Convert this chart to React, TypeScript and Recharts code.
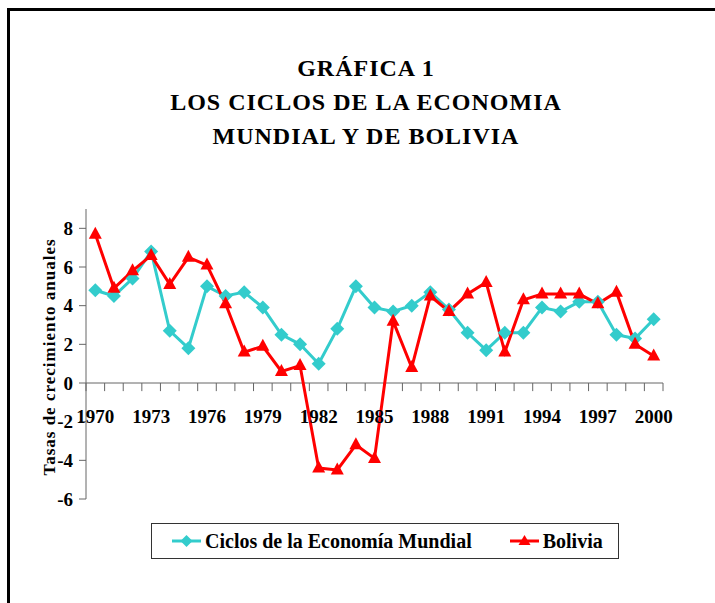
import React from "react";
import { LineChart, Line, XAxis, YAxis, ReferenceLine, ReferenceDot, Legend } from "recharts";

// growth rates, 1970-2000
const years = [
  1970, 1971, 1972, 1973, 1974, 1975, 1976, 1977, 1978, 1979, 1980,
  1981, 1982, 1983, 1984, 1985, 1986, 1987, 1988, 1989, 1990,
  1991, 1992, 1993, 1994, 1995, 1996, 1997, 1998, 1999, 2000,
];
const mundial = [
  4.8, 4.5, 5.4, 6.8, 2.7, 1.8, 5.0, 4.5, 4.7, 3.9, 2.5,
  2.0, 1.0, 2.8, 5.0, 3.9, 3.7, 4.0, 4.7, 3.8, 2.6,
  1.7, 2.6, 2.6, 3.9, 3.7, 4.2, 4.2, 2.5, 2.3, 3.3,
];
const bolivia = [
  7.7, 4.9, 5.8, 6.6, 5.1, 6.5, 6.1, 4.1, 1.6, 1.9, 0.6,
  0.9, -4.4, -4.5, -3.2, -3.9, 3.2, 0.8, 4.5, 3.7, 4.6,
  5.2, 1.6, 4.3, 4.6, 4.6, 4.6, 4.1, 4.7, 2.0, 1.4,
];
const yTicks = [-6, -4, -2, 0, 2, 4, 6, 8];
const yearLabels = [1970, 1973, 1976, 1979, 1982, 1985, 1988, 1991, 1994, 1997, 2000];
const titleLines = ["GRÁFICA 1", "LOS CICLOS DE LA ECONOMIA", "MUNDIAL Y DE BOLIVIA"];
const seriesOrder = ["mundial", "bolivia"];

const data = years.map((year, i) => ({ year, mundial: mundial[i], bolivia: bolivia[i] }));
// category boundaries for the tick marks on the zero line
const boundaries = [...years.map((y) => y - 0.5), years[years.length - 1] + 0.5];

const FONT = '"Liberation Serif", "Times New Roman", serif';
const CYAN = "#33CCCC";
const RED = "#FF0000";
const AXIS = "#666";

const Diamond = (props: any) => {
  const { cx, cy } = props;
  if (cx == null || cy == null) return <g />;
  const r = 7;
  return (
    <polygon
      points={`${cx},${cy - r} ${cx + r},${cy} ${cx},${cy + r} ${cx - r},${cy}`}
      fill={CYAN}
    />
  );
};

const Triangle = (props: any) => {
  const { cx, cy } = props;
  if (cx == null || cy == null) return <g />;
  return <polygon points={`${cx},${cy - 7.5} ${cx + 6.5},${cy + 4.5} ${cx - 6.5},${cy + 4.5}`} fill={RED} />;
};

const YLabel = (props: any) => {
  const vb = props.viewBox || {};
  const x = (vb.x ?? 26) + 29;
  const y = (vb.y ?? 209) + (vb.height ?? 290) / 2 + 3;
  return (
    <text
      x={x}
      y={y}
      transform={`rotate(-90 ${x} ${y})`}
      textAnchor="middle"
      fontFamily={FONT}
      fontWeight="bold"
      fontSize={17}
      letterSpacing={1}
      fill="#000"
    >
      Tasas de crecimiento anuales
    </text>
  );
};

const renderLegend = (props: any) => {
  const payload = [...(props.payload || [])].sort(
    (a: any, b: any) => seriesOrder.indexOf(a.dataKey) - seriesOrder.indexOf(b.dataKey)
  );
  return (
    <div
      style={{
        boxSizing: "border-box",
        width: 468,
        height: 36,
        border: "1px solid #333",
        background: "#fff",
        display: "flex",
        alignItems: "center",
        paddingLeft: 20,
        fontFamily: FONT,
        fontWeight: "bold",
        fontSize: 20,
        color: "#000",
        whiteSpace: "nowrap",
      }}
    >
      {payload.map((entry: any, i: number) => (
        <div
          key={entry.dataKey}
          style={{ display: "flex", alignItems: "center", flexShrink: 0, marginRight: i === 0 ? 38 : 0 }}
        >
          <svg width={29} height={14} style={{ marginRight: 4, flexShrink: 0 }}>
            <line x1={0} y1={7} x2={29} y2={7} stroke={entry.color} strokeWidth={3} />
            {entry.dataKey === "mundial" ? (
              <polygon points="14.5,1 20.5,7 14.5,13 8.5,7" fill={entry.color} />
            ) : (
              <polygon points="14.5,1 20.5,11 8.5,11" fill={entry.color} />
            )}
          </svg>
          <span>{entry.value}</span>
        </div>
      ))}
    </div>
  );
};

export default function App() {
  return (
    <div
      style={{
        position: "absolute",
        left: 0,
        top: 0,
        width: 715,
        height: 603,
        overflow: "hidden",
        background: "#fff",
        fontFamily: FONT,
      }}
    >
      <div
        style={{
          position: "absolute",
          left: 7,
          top: 8,
          width: 900,
          height: 800,
          borderLeft: "3px solid #000",
          borderTop: "3px solid #000",
        }}
      />
      <div
        style={{
          position: "absolute",
          left: 0,
          width: 732,
          top: 51,
          textAlign: "center",
          fontWeight: "bold",
          fontSize: 24,
          letterSpacing: 1,
          lineHeight: "34px",
          color: "#000",
        }}
      >
        {titleLines.map((t) => (
          <div key={t}>{t}</div>
        ))}
      </div>
      <div style={{ position: "absolute", left: 0, top: 0 }}>
        <LineChart
          width={715}
          height={603}
          data={data}
          margin={{ top: 209, right: 52, bottom: 104, left: 26 }}
        >
          <XAxis type="number" dataKey="year" domain={[1969.5, 2000.5]} hide />
          <YAxis
            type="number"
            domain={[-6, 9]}
            ticks={yTicks}
            interval={0}
            width={60}
            tickSize={7}
            tickMargin={6}
            axisLine={{ stroke: AXIS }}
            tickLine={{ stroke: AXIS }}
            tick={{ fill: "#000", fontSize: 19, fontWeight: "bold", fontFamily: FONT }}
            label={<YLabel />}
          />
          <ReferenceLine y={0} stroke={AXIS} />
          {boundaries.map((b) => (
            <ReferenceLine
              key={`t${b}`}
              segment={[
                { x: b, y: 0 },
                { x: b, y: -0.42 },
              ]}
              stroke={AXIS}
            />
          ))}
          {yearLabels.map((yr) => (
            <ReferenceDot
              key={`l${yr}`}
              x={yr}
              y={0}
              r={0}
              fill="none"
              stroke="none"
              label={{
                value: String(yr),
                position: "bottom",
                offset: 27,
                fill: "#000",
                fontSize: 19,
                fontWeight: "bold",
                fontFamily: FONT,
              }}
            />
          ))}
          <Legend
            layout="horizontal"
            verticalAlign="middle"
            align="center"
            content={renderLegend}
            wrapperStyle={{ left: 151, top: 523, width: 468, height: 36 }}
          />
          <Line
            type="linear"
            dataKey="mundial"
            name="Ciclos de la Economía Mundial"
            stroke={CYAN}
            strokeWidth={3}
            dot={<Diamond />}
            activeDot={false}
            isAnimationActive={false}
          />
          <Line
            type="linear"
            dataKey="bolivia"
            name="Bolivia"
            stroke={RED}
            strokeWidth={3}
            dot={<Triangle />}
            activeDot={false}
            isAnimationActive={false}
          />
        </LineChart>
      </div>
    </div>
  );
}
